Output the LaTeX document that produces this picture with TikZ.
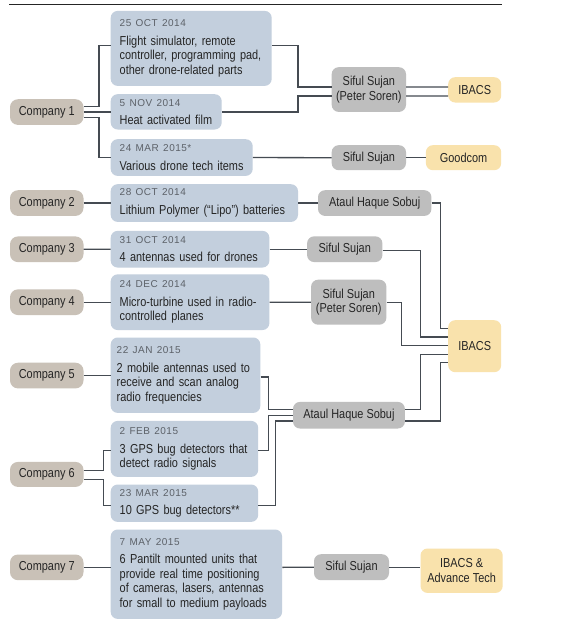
\documentclass[tikz,border=0pt]{standalone}
\usepackage{fontspec}
\setmainfont{Liberation Sans}[FakeStretch=0.84]
\newfontfamily\datefont{Liberation Sans}[LetterSpace=5]
\usepackage{tikz}
\definecolor{compbox}{HTML}{C9C1B7}
\definecolor{itembox}{HTML}{C3CFDD}
\definecolor{personbox}{HTML}{BEBEBE}
\definecolor{destbox}{HTML}{F9E2AC}
\definecolor{wirecol}{HTML}{454B52}
\definecolor{datecol}{HTML}{5C6168}
\definecolor{textdark}{HTML}{252525}
\newcommand{\when}[1]{{\datefont\fontsize{10}{12}\selectfont\color{datecol}#1}\\[4pt]}

\begin{document}
\begin{tikzpicture}[
  x=1pt, y=-1pt,
  base/.style={
    rectangle, anchor=north west, text=textdark,
    font=\fontsize{13}{14.5}\selectfont
  },
  comp/.style={
    base, rounded corners=8pt, fill=compbox,
    minimum width=73.5pt, minimum height=25.7pt, inner sep=0pt
  },
  item/.style={
    base, rounded corners=7pt, fill=itembox,
    align=left, inner xsep=9pt, inner ysep=0pt
  },
  person/.style={
    base, rounded corners=7pt, fill=personbox,
    align=center, inner sep=0pt
  },
  dest/.style={
    base, rounded corners=7pt, fill=destbox,
    align=center, inner sep=0pt
  },
  wire/.style={draw=wirecol, line width=1.3pt}
]
  \fill[white] (0,0) rectangle (568,624);
  \draw[line width=1pt, textdark] (9,4.3) -- (502,4.3);

  % Company 1
  \node[comp] (c1) at (9.8,99) {Company 1};
  \node[item, text width=143pt, minimum height=75pt] (oct25) at (110.5,10.7)
        {\when{25 OCT 2014}Flight simulator, remote\\controller, programming pad,\\other drone-related parts};
  \node[item, text width=93pt, minimum height=35.3pt] (nov5) at (110.5,94)
        {\when{5 NOV 2014}Heat activated film};
  \node[item, text width=124pt, minimum height=36.7pt] (mar24) at (110.5,139)
        {\when{24 MAR 2015*}Various drone tech items};
  \node[person, minimum width=74.3pt, minimum height=44.7pt] (sujan1) at (331.5,67) {Siful Sujan\\(Peter Soren)};
  \node[person, minimum width=74.3pt, minimum height=25pt] (sujan2) at (331.5,145) {Siful Sujan};
  \node[dest, minimum width=53pt, minimum height=25.3pt] (ibacs1) at (448,77) {IBACS};
  \node[dest, minimum width=75.3pt, minimum height=25pt] (goodcom) at (425.7,145) {Goodcom};

  % Companies 2 to 4
  \node[comp] (c2) at (9.8,190) {Company 2};
  \node[item, text width=169.3pt, minimum height=37.7pt] (lipo) at (110.5,184)
        {\when{28 OCT 2014}Lithium Polymer (“Lipo”) batteries};
  \node[person, minimum width=113.4pt, minimum height=25.7pt] (sobuj1) at (317.8,190) {Ataul Haque Sobuj};
  \node[comp] (c3) at (9.8,236.2) {Company 3};
  \node[item, text width=140.7pt, minimum height=36.7pt] (ant4) at (110.5,230.65)
        {\when{31 OCT 2014}4 antennas used for drones};
  \node[person, minimum width=75.3pt, minimum height=25.7pt] (sujan3) at (306.9,236.15) {Siful Sujan};
  \node[comp] (c4) at (9.8,289.15) {Company 4};
  \node[item, text width=140.7pt, minimum height=55.7pt] (turbine) at (110.5,274.15)
        {\when{24 DEC 2014}Micro-turbine used in radio-\\controlled planes};
  \node[person, minimum width=75.3pt, minimum height=45pt] (sujan4) at (310.9,279.5) {Siful Sujan\\(Peter Soren)};
  \node[dest, minimum width=53pt, minimum height=52pt] (ibacs2) at (448,320) {IBACS};

  % Companies 5 and 6
  \node[comp] (c5) at (9.8,362.5) {Company 5};
  \node[item, text width=137.6pt, inner xsep=6pt, minimum height=75.4pt] (jan22) at (110.5,337.3)
        {\when{22 JAN 2015}2 mobile antennas used to\\receive and scan analog\\radio frequencies};
  \node[person, minimum width=111.9pt, minimum height=26.6pt] (sobuj2) at (292.8,401.7) {Ataul Haque Sobuj};
  \node[item, text width=129.5pt, minimum height=56pt] (feb2) at (110.5,420.7)
        {\when{2 FEB 2015}3 GPS bug detectors that\\detect radio signals};
  \node[comp, minimum height=25pt] (c6) at (9.8,461.7) {Company 6};
  \node[item, text width=129.5pt, minimum height=37.4pt] (mar23) at (110.5,484.3)
        {\when{23 MAR 2015}10 GPS bug detectors**};

  % Company 7
  \node[comp] (c7) at (9.8,554.3) {Company 7};
  \node[item, text width=153.4pt, minimum height=89.4pt] (may7) at (110.5,529.3)
        {\when{7 MAY 2015}6 Pantilt mounted units that\\provide real time positioning\\of cameras, lasers, antennas\\for small to medium payloads};
  \node[person, minimum width=75pt, minimum height=26pt] (sujan7) at (313.8,554) {Siful Sujan};
  \node[dest, minimum width=82.2pt, minimum height=44.4pt] (ibacs3) at (420.3,548.3) {IBACS \&\\Advance Tech};

  % Company 1 wires
  \draw[wire] ([yshift=5.5pt]c1.east) -- ++(15.3,0) |- ([yshift=3.2pt]oct25.west);
  \draw[wire] (c1.east) -- (c1.east -| nov5.west);
  \draw[wire] ([yshift=-5.2pt]c1.east) -- ++(15.3,0) |- (mar24.west);
  \draw[wire] ([yshift=3.2pt]oct25.east) -- ++(26.1,0) |- ([yshift=2.6pt]sujan1.west);
  \draw[wire] (nov5.east) -- ++(76.1,0) |- ([yshift=-6.4pt]sujan1.west);
  \draw[wire] ([yshift=2.6pt]sujan1.east) -- ([yshift=2.9pt]ibacs1.west);
  \draw[wire] ([yshift=-6.4pt]sujan1.east) -- ([yshift=-6.1pt]ibacs1.west);
  \draw[wire] (mar24.east) -- (sujan2.west);
  \draw[wire] (sujan2.east) -- (goodcom.west);

  % Companies 2 to 4 wires
  \draw[wire] (c2.east) -- (lipo.west);
  \draw[wire] (lipo.east) -- (sobuj1.west);
  \draw[wire] (sobuj1.east) -- ++(9,0) |- ([yshift=17.7pt]ibacs2.west);
  \draw[wire] (c3.east) -- (ant4.west);
  \draw[wire] (ant4.east) -- (sujan3.west);
  \draw[wire] ([yshift=-1.2pt]sujan3.east) -- ++(38.1,0) |- ([yshift=9.3pt]ibacs2.west);
  \draw[wire] (c4.east) -- (turbine.west);
  \draw[wire] (turbine.east) -- (sujan4.west);
  \draw[wire] (sujan4.east) -- ++(15.2,0) |- ([yshift=1pt]ibacs2.west);

  % Companies 5 and 6 wires
  \draw[wire] (c5.east) -- (c5.east -| jan22.west);
  \draw[wire] ([yshift=-1.7pt]jan22.east) -- ++(8,0) |- ([yshift=5.7pt]sobuj2.west);
  \draw[wire] ([yshift=-1.3pt]feb2.east) -- ++(10,0) |- (sobuj2.west);
  \draw[wire] ([yshift=-2pt]mar23.east) -- ++(17.4,0) |- ([yshift=-5.7pt]sobuj2.west);
  \draw[wire] ([yshift=4.2pt]c6.east) -- ++(20,0) |- ([yshift=-1.3pt]feb2.west);
  \draw[wire] ([yshift=-4.8pt]c6.east) -- ++(20,0) |- ([yshift=-2pt]mar23.west);
  \draw[wire] ([yshift=5.7pt]sobuj2.east) -- ++(15.6,0) |- ([yshift=-8pt]ibacs2.west);
  \draw[wire] ([yshift=-5.7pt]sobuj2.east) -- ++(35.5,0) |- ([yshift=-16.3pt]ibacs2.west);

  % Company 7 wires
  \draw[wire] (c7.east) -- (c7.east -| may7.west);
  \draw[wire] (may7.east |- c7.east) -- (sujan7.west);
  \draw[wire] (sujan7.east) -- (sujan7.east -| ibacs3.west);
\end{tikzpicture}
\end{document}
